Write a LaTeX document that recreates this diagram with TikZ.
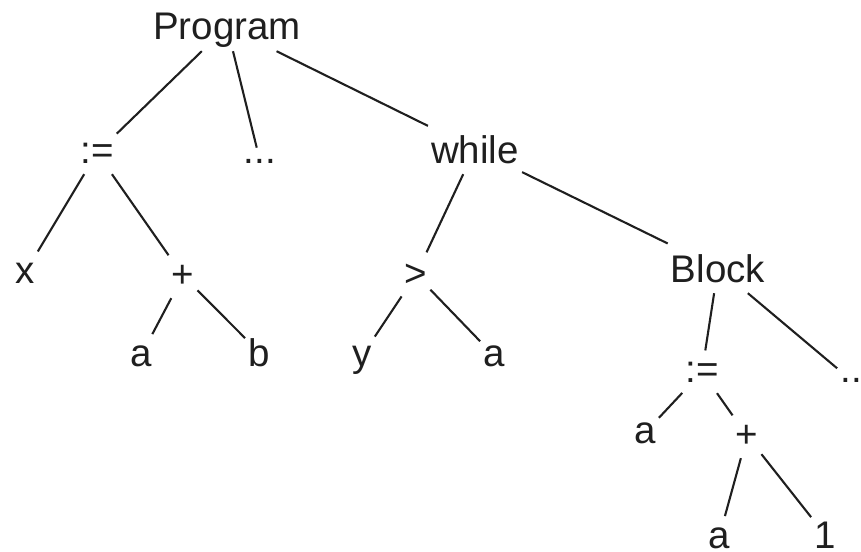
\documentclass[tikz,border=0pt]{standalone}
\usepackage{fontspec}
\setmainfont{Liberation Sans}
\begin{document}
\begin{tikzpicture}[x=1pt,y=-1pt,
  lbl/.style={anchor=base,font=\fontsize{38.5}{46}\selectfont,text depth=0pt,inner xsep=3pt,inner ysep=11pt,text=black!88},
  edge/.style={draw=black!88,line width=2.1pt}]
\useasboundingbox (0,0) rectangle (861,551);
% level 0
\node[lbl] (P) at (227,40) {Program};
% level 1
\node[lbl] (A1) at (97,163) {:=};
\node[lbl] (D1) at (260,163) {...};
\node[lbl] (W) at (475,163) {while};
% level 2
\node[lbl] (X) at (25,283) {x};
\node[lbl] (PL1) at (183,287) {+};
\node[lbl] (GT) at (416,286) {>};
\node[lbl] (B) at (718,282) {Block};
% level 3
\node[lbl] (A2) at (141,366) {a};
\node[lbl] (Bv) at (259,366) {b};
\node[lbl] (Y) at (362,366) {y};
\node[lbl] (A3) at (494,366) {a};
\node[lbl] (A4) at (702,382) {:=};
\node[lbl] (D2) at (851,382) {..};
% level 4
\node[lbl] (A5) at (645,443) {a};
\node[lbl] (PL2) at (747,447) {+};
% level 5
\node[lbl] (A6) at (719,548) {a};
\node[lbl] (One) at (825,548) {1};
% edges
\draw[edge] (P) -- (A1);
\draw[edge] (P) -- (D1);
\draw[edge] (P) -- (W);
\draw[edge] (A1) -- (X);
\draw[edge] (A1) -- (PL1);
\draw[edge] (PL1) -- (A2);
\draw[edge] (PL1) -- (Bv);
\draw[edge] (W) -- (GT);
\draw[edge] (W) -- (B);
\draw[edge] (GT) -- (Y);
\draw[edge] (GT) -- (A3);
\draw[edge] (B) -- (A4);
\draw[edge] (B) -- (D2);
\draw[edge] (A4) -- (A5);
\draw[edge] (A4) -- (PL2);
\draw[edge] (PL2) -- (A6);
\draw[edge] (PL2) -- (One);
\end{tikzpicture}
\end{document}
